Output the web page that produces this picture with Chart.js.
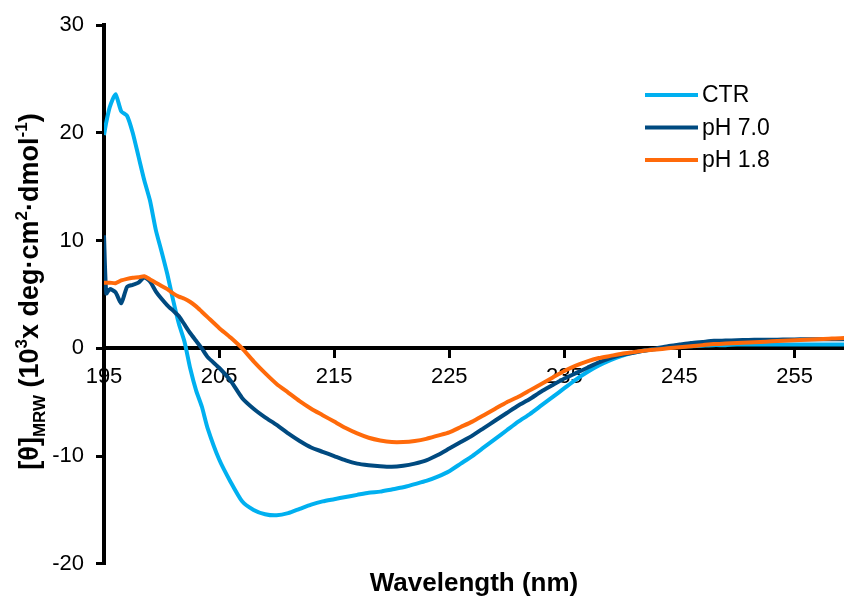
<!DOCTYPE html>
<html>
<head>
<meta charset="utf-8">
<script src="https://cdn.jsdelivr.net/npm/chart.js@4.4.1/dist/chart.umd.min.js"></script>
<style>
  body { margin: 0; background: #fff; }
</style>
</head>
<body>
<canvas id="cd-chart" width="844" height="599"></canvas>
<script>
// wavelength in nm, values in 10^3 deg cm2 dmol-1
const wavelength = [195, 195.2, 195.5, 196, 196.5, 197, 197.5, 198, 198.5, 199, 199.5, 200, 200.5, 201, 201.5, 202, 202.5, 203, 203.5, 204,
  205, 206, 207, 208, 209, 210, 211, 212, 213, 214, 215, 216, 217, 218, 219, 220, 221, 222, 223, 224,
  225, 226, 227, 228, 229, 230, 231, 232, 233, 234, 235, 236, 237, 238, 239, 240, 241, 242, 243, 244,
  245, 246, 247, 248, 249, 250, 251, 252, 253, 254, 255, 256, 257, 258, 259, 260];

const ctr = [19.8, 21.0, 22.4, 23.6, 22.0, 21.6, 20.0, 17.8, 15.6, 13.7, 11.0, 9.0, 6.9, 4.5, 2.3, 0.6, -1.9, -3.9, -5.4, -7.4,
  -10.3, -12.4, -14.2, -15.0, -15.4, -15.5, -15.3, -14.9, -14.5, -14.2, -14.0, -13.8, -13.6, -13.4, -13.3, -13.1, -12.9, -12.6, -12.3, -11.9,
  -11.4, -10.7, -10.0, -9.2, -8.4, -7.6, -6.8, -6.1, -5.3, -4.5, -3.7, -2.9, -2.2, -1.6, -1.1, -0.7, -0.4, -0.2, -0.05, 0.05,
  0.15, 0.2, 0.25, 0.3, 0.3, 0.35, 0.35, 0.35, 0.35, 0.35, 0.35, 0.35, 0.35, 0.35, 0.35, 0.35];

const ph70 = [10.5, 5.1, 5.5, 5.2, 4.2, 5.7, 5.9, 6.1, 6.6, 6.2, 5.3, 4.6, 4.0, 3.5, 3.0, 2.2, 1.4, 0.7, 0.0, -0.8,
  -1.8, -3.0, -4.6, -5.6, -6.4, -7.1, -7.9, -8.6, -9.2, -9.6, -10.0, -10.4, -10.7, -10.85, -10.95, -11.0, -10.9, -10.7, -10.4, -9.9,
  -9.3, -8.7, -8.1, -7.4, -6.7, -6.0, -5.3, -4.7, -4.0, -3.4, -2.8, -2.3, -1.8, -1.3, -0.9, -0.6, -0.4, -0.2, 0.0, 0.2,
  0.35, 0.5, 0.6, 0.7, 0.72, 0.75, 0.78, 0.8, 0.8, 0.82, 0.83, 0.84, 0.85, 0.85, 0.85, 0.86];

const ph18 = [6.1, 6.1, 6.1, 6.05, 6.3, 6.45, 6.55, 6.6, 6.7, 6.4, 6.1, 5.8, 5.5, 5.1, 4.8, 4.6, 4.3, 3.9, 3.4, 2.9,
  1.9, 1.0, 0.0, -1.2, -2.3, -3.3, -4.1, -4.9, -5.6, -6.2, -6.8, -7.4, -7.9, -8.3, -8.55, -8.7, -8.7, -8.6, -8.4, -8.1,
  -7.8, -7.3, -6.8, -6.2, -5.6, -5.0, -4.5, -3.9, -3.3, -2.7, -2.1, -1.6, -1.2, -0.9, -0.7, -0.5, -0.35, -0.2, -0.1, 0.0,
  0.1, 0.2, 0.3, 0.4, 0.45, 0.5, 0.55, 0.6, 0.65, 0.7, 0.75, 0.8, 0.85, 0.9, 0.95, 0.95];

const seriesNames = ["CTR", "pH 7.0", "pH 1.8"];
const seriesColors = ["#00B0F0", "#004A80", "#FF6A0A"];
const xTicks = [195, 205, 215, 225, 235, 245, 255];
const yTicks = [-20, -10, 0, 10, 20, 30];

const yTitleParts = [
  { text: "[θ]", kind: 0 },
  { text: "MRW", kind: 1 },
  { text: " (10", kind: 0 },
  { text: "3", kind: -1 },
  { text: "x deg·cm", kind: 0 },
  { text: "2", kind: -1 },
  { text: "·dmol", kind: 0 },
  { text: "-1", kind: -1 },
  { text: ")", kind: 0 }
];

const FONT = "'Liberation Sans', Arial, sans-serif";
Chart.defaults.font.family = FONT;
Chart.defaults.color = "#000";

function toPoints(vals) {
  return wavelength.map((w, i) => ({ x: w, y: vals[i] }));
}

// y axis title with sub/superscripts, drawn rotated
const yTitlePlugin = {
  id: "yTitle",
  afterDraw(chart) {
    const ctx = chart.ctx;
    const big = "bold 27px " + FONT;
    const small = "bold 17px " + FONT;
    ctx.save();
    let total = 0;
    yTitleParts.forEach(p => {
      ctx.font = p.kind === 0 ? big : small;
      p.w = ctx.measureText(p.text).width;
      total += p.w;
    });
    const cy = (chart.chartArea.top + chart.chartArea.bottom) / 2 - 3;
    ctx.translate(38, cy);
    ctx.rotate(-Math.PI / 2);
    ctx.fillStyle = "#000";
    ctx.textBaseline = "alphabetic";
    let x = -total / 2;
    yTitleParts.forEach(p => {
      ctx.font = p.kind === 0 ? big : small;
      const dy = p.kind === 1 ? 7 : (p.kind === -1 ? -11 : 0);
      ctx.fillText(p.text, x, dy);
      x += p.w;
    });
    ctx.restore();
  }
};

// legend in the top right of the plot
const legendPlugin = {
  id: "cornerLegend",
  afterDraw(chart) {
    const ctx = chart.ctx;
    ctx.save();
    ctx.font = "23px " + FONT;
    ctx.textBaseline = "middle";
    seriesNames.forEach((name, i) => {
      const y = 95 + i * 32.5;
      ctx.strokeStyle = seriesColors[i];
      ctx.lineWidth = 4;
      ctx.beginPath();
      ctx.moveTo(645, y);
      ctx.lineTo(698, y);
      ctx.stroke();
      ctx.fillStyle = "#000";
      ctx.fillText(name, 702, y + 1);
    });
    ctx.restore();
  }
};

new Chart(document.getElementById("cd-chart"), {
  type: "line",
  data: {
    datasets: [
      { label: seriesNames[0], data: toPoints(ctr), borderColor: seriesColors[0], order: 3 },
      { label: seriesNames[1], data: toPoints(ph70), borderColor: seriesColors[1], order: 2 },
      { label: seriesNames[2], data: toPoints(ph18), borderColor: seriesColors[2], order: 1 }
    ]
  },
  options: {
    responsive: false,
    animation: false,
    layout: { padding: { top: 24, left: 0, right: 0, bottom: 0 } },
    elements: {
      point: { radius: 0 },
      line: { borderWidth: 4, tension: 0.2, fill: false }
    },
    scales: {
      x: {
        type: "linear",
        min: 195,
        max: 259.3,
        position: { y: 0 },
        afterBuildTicks: s => { s.ticks = xTicks.map(v => ({ value: v })); },
        ticks: { font: { size: 22 }, color: "#000", padding: 7, maxRotation: 0, autoSkip: false },
        grid: { drawOnChartArea: false, drawTicks: true, tickLength: 8, color: "#000", lineWidth: 3 },
        border: { display: true, color: "#000", width: 4 }
      },
      y: {
        min: -20,
        max: 30,
        afterBuildTicks: s => { s.ticks = yTicks.map(v => ({ value: v })); },
        afterFit: s => { s.width = 104; },
        ticks: { font: { size: 22 }, color: "#000", padding: 12 },
        grid: { drawOnChartArea: false, drawTicks: true, tickLength: 8, color: "#000", lineWidth: 3 },
        border: { display: true, color: "#000", width: 4 }
      }
    },
    plugins: {
      legend: { display: false },
      tooltip: { enabled: false },
      title: {
        display: true,
        position: "bottom",
        fullSize: false,
        text: "Wavelength (nm)",
        color: "#000",
        font: { size: 26, weight: "bold" },
        padding: { top: 4, bottom: 0 }
      }
    }
  },
  plugins: [yTitlePlugin, legendPlugin]
});
</script>
</body>
</html>
